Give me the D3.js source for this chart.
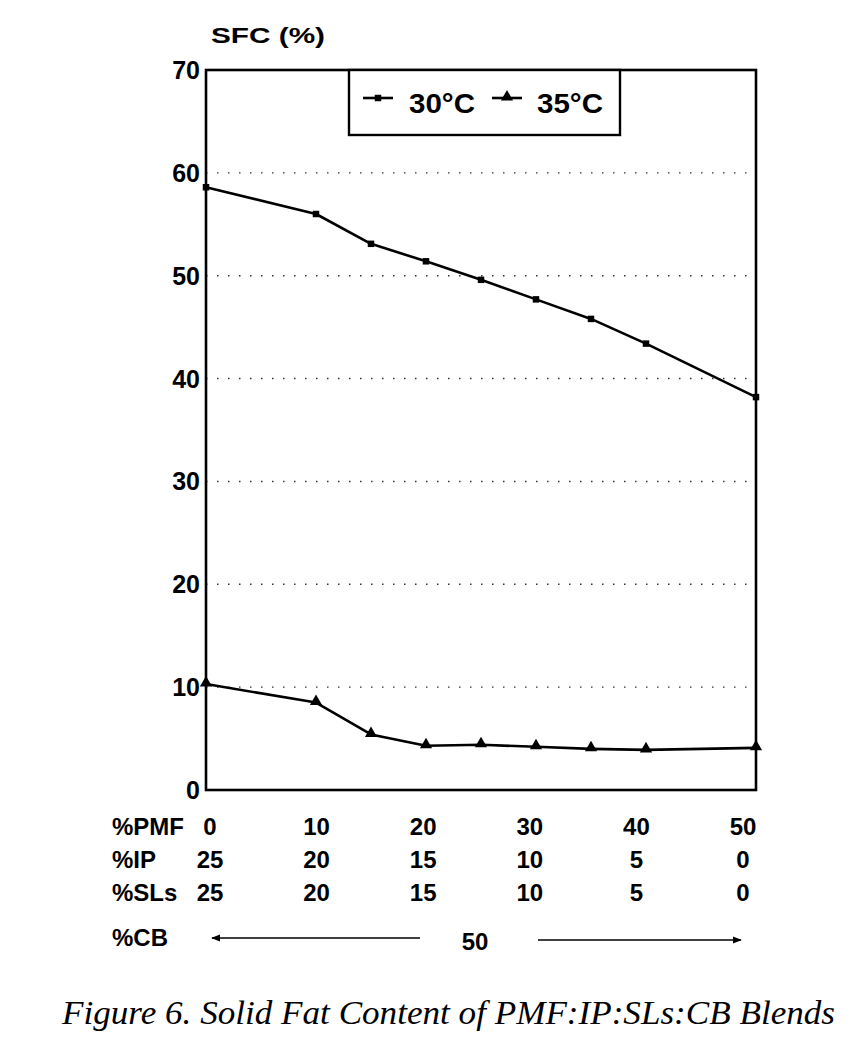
<!DOCTYPE html>
<html>
<head>
<meta charset="utf-8">
<script src="https://cdn.jsdelivr.net/npm/d3@7"></script>
<style>
  html, body { margin: 0; padding: 0; background: #fff; }
  svg { display: block; }
  .sans { font-family: "Liberation Sans", Arial, Helvetica, sans-serif; font-weight: bold; fill: #000; }
</style>
</head>
<body>
<script>
// ---- data ----
const pmf = [0, 10, 15, 20, 25, 30, 35, 40, 50];
const sfc30 = [58.6, 56.0, 53.1, 51.4, 49.6, 47.7, 45.8, 43.4, 38.2];
const sfc35 = [10.3, 8.5, 5.4, 4.3, 4.4, 4.2, 4.0, 3.9, 4.1];
const yTicks = [0, 10, 20, 30, 40, 50, 60, 70];
const gridTicks = [10, 20, 30, 40, 50, 60];
const tableCols = [0, 10, 20, 30, 40, 50];
const rowPMF = ["0", "10", "20", "30", "40", "50"];
const rowIP = ["25", "20", "15", "10", "5", "0"];
const rowSLs = ["25", "20", "15", "10", "5", "0"];
const rowLabels = ["%PMF", "%IP", "%SLs", "%CB"];
const cbValue = "50";
const seriesNames = ["30°C", "35°C"];
const yTitle = "SFC (%)";
const caption = "Figure 6. Solid Fat Content of PMF:IP:SLs:CB Blends";

// ---- layout ----
const W = 865, H = 1057;
const svg = d3.select("body").append("svg").attr("width", W).attr("height", H);

const x = d3.scaleLinear().domain([0, 50]).range([206, 756]);
const y = d3.scaleLinear().domain([0, 70]).range([790, 70]);

// gridlines (dotted)
svg.append("g").selectAll("line").data(gridTicks).join("line")
  .attr("x1", x(0)).attr("x2", x(50))
  .attr("y1", d => y(d)).attr("y2", d => y(d))
  .attr("stroke", "#333").attr("stroke-width", 1.4)
  .attr("stroke-dasharray", "1.5,9.5");

// frame
svg.append("rect")
  .attr("x", x(0)).attr("y", y(70))
  .attr("width", x(50) - x(0)).attr("height", y(0) - y(70))
  .attr("fill", "none").attr("stroke", "#000").attr("stroke-width", 2.6);

// y axis labels
svg.append("g").selectAll("text").data(yTicks).join("text")
  .attr("class", "sans")
  .attr("x", 200).attr("y", d => y(d)).attr("dy", "0.36em")
  .attr("text-anchor", "end").attr("font-size", 25)
  .text(d => d);

// y title
svg.append("text").attr("class", "sans")
  .attr("x", 211).attr("y", 43).attr("font-size", 22)
  .attr("textLength", 114).attr("lengthAdjust", "spacingAndGlyphs")
  .text(yTitle);

// lines
const line = d3.line().x((d, i) => x(pmf[i])).y(d => y(d));
[sfc30, sfc35].forEach(s => {
  svg.append("path").datum(s)
    .attr("d", line).attr("fill", "none")
    .attr("stroke", "#000").attr("stroke-width", 2.6)
    .attr("stroke-linejoin", "round");
});

// markers
const sq = d3.symbol().type(d3.symbolSquare).size(42);
const tri = d3.symbol().type(d3.symbolTriangle).size(64);
svg.append("g").selectAll("path").data(sfc30).join("path")
  .attr("d", sq).attr("transform", (d, i) => `translate(${x(pmf[i])},${y(d)})`)
  .attr("fill", "#000");
svg.append("g").selectAll("path").data(sfc35).join("path")
  .attr("d", tri).attr("transform", (d, i) => `translate(${x(pmf[i])},${y(d) - 1})`)
  .attr("fill", "#000");

// legend
const lg = svg.append("g");
lg.append("rect").attr("x", 349).attr("y", 70).attr("width", 271).attr("height", 65)
  .attr("fill", "#fff").attr("stroke", "#000").attr("stroke-width", 2.4);
lg.append("line").attr("x1", 363).attr("x2", 393).attr("y1", 98).attr("y2", 98)
  .attr("stroke", "#000").attr("stroke-width", 2.6);
lg.append("path").attr("d", sq).attr("transform", "translate(378,98)");
lg.append("text").attr("class", "sans").attr("x", 409).attr("y", 113)
  .attr("font-size", 27).attr("textLength", 66).attr("lengthAdjust", "spacingAndGlyphs")
  .text(seriesNames[0]);
lg.append("line").attr("x1", 492).attr("x2", 522).attr("y1", 98).attr("y2", 98)
  .attr("stroke", "#000").attr("stroke-width", 2.6);
lg.append("path").attr("d", tri).attr("transform", "translate(507,97)");
lg.append("text").attr("class", "sans").attr("x", 537).attr("y", 113)
  .attr("font-size", 27).attr("textLength", 66).attr("lengthAdjust", "spacingAndGlyphs")
  .text(seriesNames[1]);

// table below
const tx = d3.scaleLinear().domain([0, 50]).range([210, 743]);
const rowY = [835, 868, 901, 946];
const tg = svg.append("g");
rowLabels.forEach((lab, r) => {
  tg.append("text").attr("class", "sans").attr("x", 112).attr("y", rowY[r])
    .attr("font-size", 24).text(lab);
});
[rowPMF, rowIP, rowSLs].forEach((row, r) => {
  tg.append("g").selectAll("text").data(row).join("text")
    .attr("class", "sans")
    .attr("x", (d, i) => tx(tableCols[i])).attr("y", rowY[r])
    .attr("text-anchor", "middle").attr("font-size", 24)
    .text(d => d);
});
// CB row with arrows
const defs = svg.append("defs");
defs.append("marker").attr("id", "ah").attr("viewBox", "0 0 10 10")
  .attr("refX", 9).attr("refY", 5).attr("markerWidth", 9).attr("markerHeight", 9)
  .attr("markerUnits", "userSpaceOnUse").attr("orient", "auto")
  .append("path").attr("d", "M0,1 L10,5 L0,9 Z").attr("fill", "#000");
const cbY = 938;
tg.append("line").attr("x1", 420).attr("x2", tx(0) + 2).attr("y1", cbY).attr("y2", cbY)
  .attr("stroke", "#000").attr("stroke-width", 1.6).attr("marker-end", "url(#ah)");
tg.append("line").attr("x1", 538).attr("x2", tx(50) - 2).attr("y1", cbY + 2).attr("y2", cbY + 2)
  .attr("stroke", "#000").attr("stroke-width", 1.6).attr("marker-end", "url(#ah)");
tg.append("text").attr("class", "sans").attr("x", 475).attr("y", 950)
  .attr("text-anchor", "middle").attr("font-size", 24).text(cbValue);

// caption
svg.append("text")
  .attr("x", 62).attr("y", 1024)
  .attr("font-family", "'Liberation Serif', 'Times New Roman', serif")
  .attr("font-style", "italic").attr("font-size", 34)
  .attr("textLength", 773).attr("lengthAdjust", "spacingAndGlyphs")
  .text(caption);
</script>
</body>
</html>
